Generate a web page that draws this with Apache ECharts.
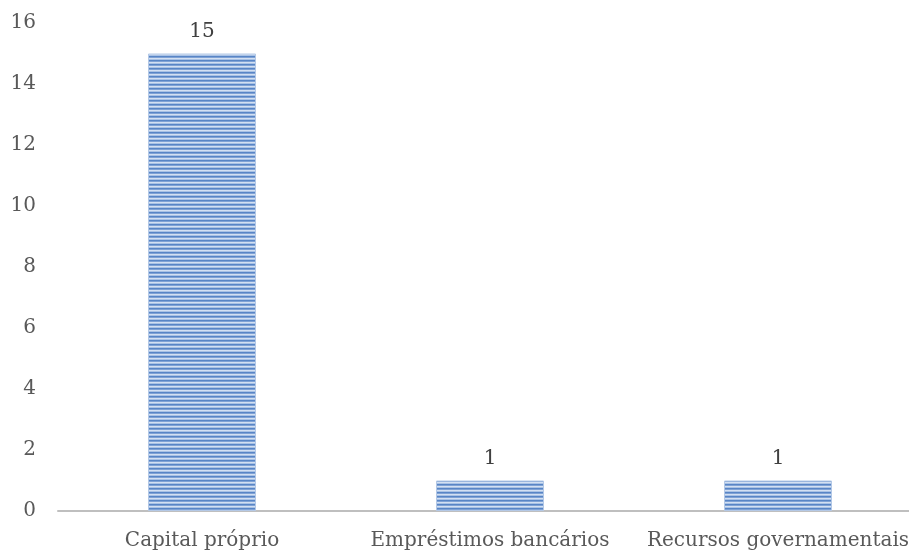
<!DOCTYPE html>
<html>
<head>
<meta charset="utf-8">
<script src="https://cdn.jsdelivr.net/npm/echarts@6/dist/echarts.min.js"></script>
<style>
  html, body { margin: 0; padding: 0; background: #ffffff; overflow: hidden; }
  #chart { width: 909px; height: 551px; }
</style>
</head>
<body>
<div id="chart"></div>
<script>
// Funding sources and number of answers for each
const categories = ['Capital próprio', 'Empréstimos bancários', 'Recursos governamentais'];
const counts = [15, 1, 1];
const yTicks = { min: 0, max: 16, step: 2 };

// Horizontal stripe fill for the bars (4px repeat, dark to light rows)
function stripePattern() {
  const rows = ['#5885c6', '#7fa2d5', '#d3e0f2', '#a9c2e5'];
  const c = document.createElement('canvas');
  c.width = 4; c.height = rows.length;
  const g = c.getContext('2d');
  rows.forEach((col, i) => { g.fillStyle = col; g.fillRect(0, i, 4, 1); });
  return c;
}

const fontFamily = '"DejaVu Serif", "Liberation Serif", serif';
const chart = echarts.init(document.getElementById('chart'));
chart.setOption({
  animation: false,
  // plot area runs past the right edge so the last label is cut off
  grid: { left: 58, width: 864, top: 23, bottom: 40, containLabel: false, outerBoundsMode: 'none' },
  xAxis: {
    type: 'category',
    data: categories,
    axisLine: { lineStyle: { color: '#bfbfbf', width: 2 } },
    axisTick: { show: false },
    axisLabel: { color: '#595959', fontSize: 20, fontFamily: fontFamily, margin: 20, interval: 0 }
  },
  yAxis: {
    type: 'value',
    min: yTicks.min, max: yTicks.max, interval: yTicks.step,
    splitLine: { show: false },
    axisLine: { show: false },
    axisTick: { show: false },
    axisLabel: { color: '#595959', fontSize: 20, fontFamily: fontFamily, margin: 22 }
  },
  series: [{
    type: 'bar',
    data: counts,
    barWidth: 108,
    itemStyle: {
      color: { image: stripePattern(), repeat: 'repeat' },
      borderColor: '#b3c8e6',
      borderWidth: 1
    },
    label: {
      show: true, position: 'top', distance: 12,
      color: '#404040', fontSize: 20, fontFamily: fontFamily
    }
  }]
});
</script>
</body>
</html>
